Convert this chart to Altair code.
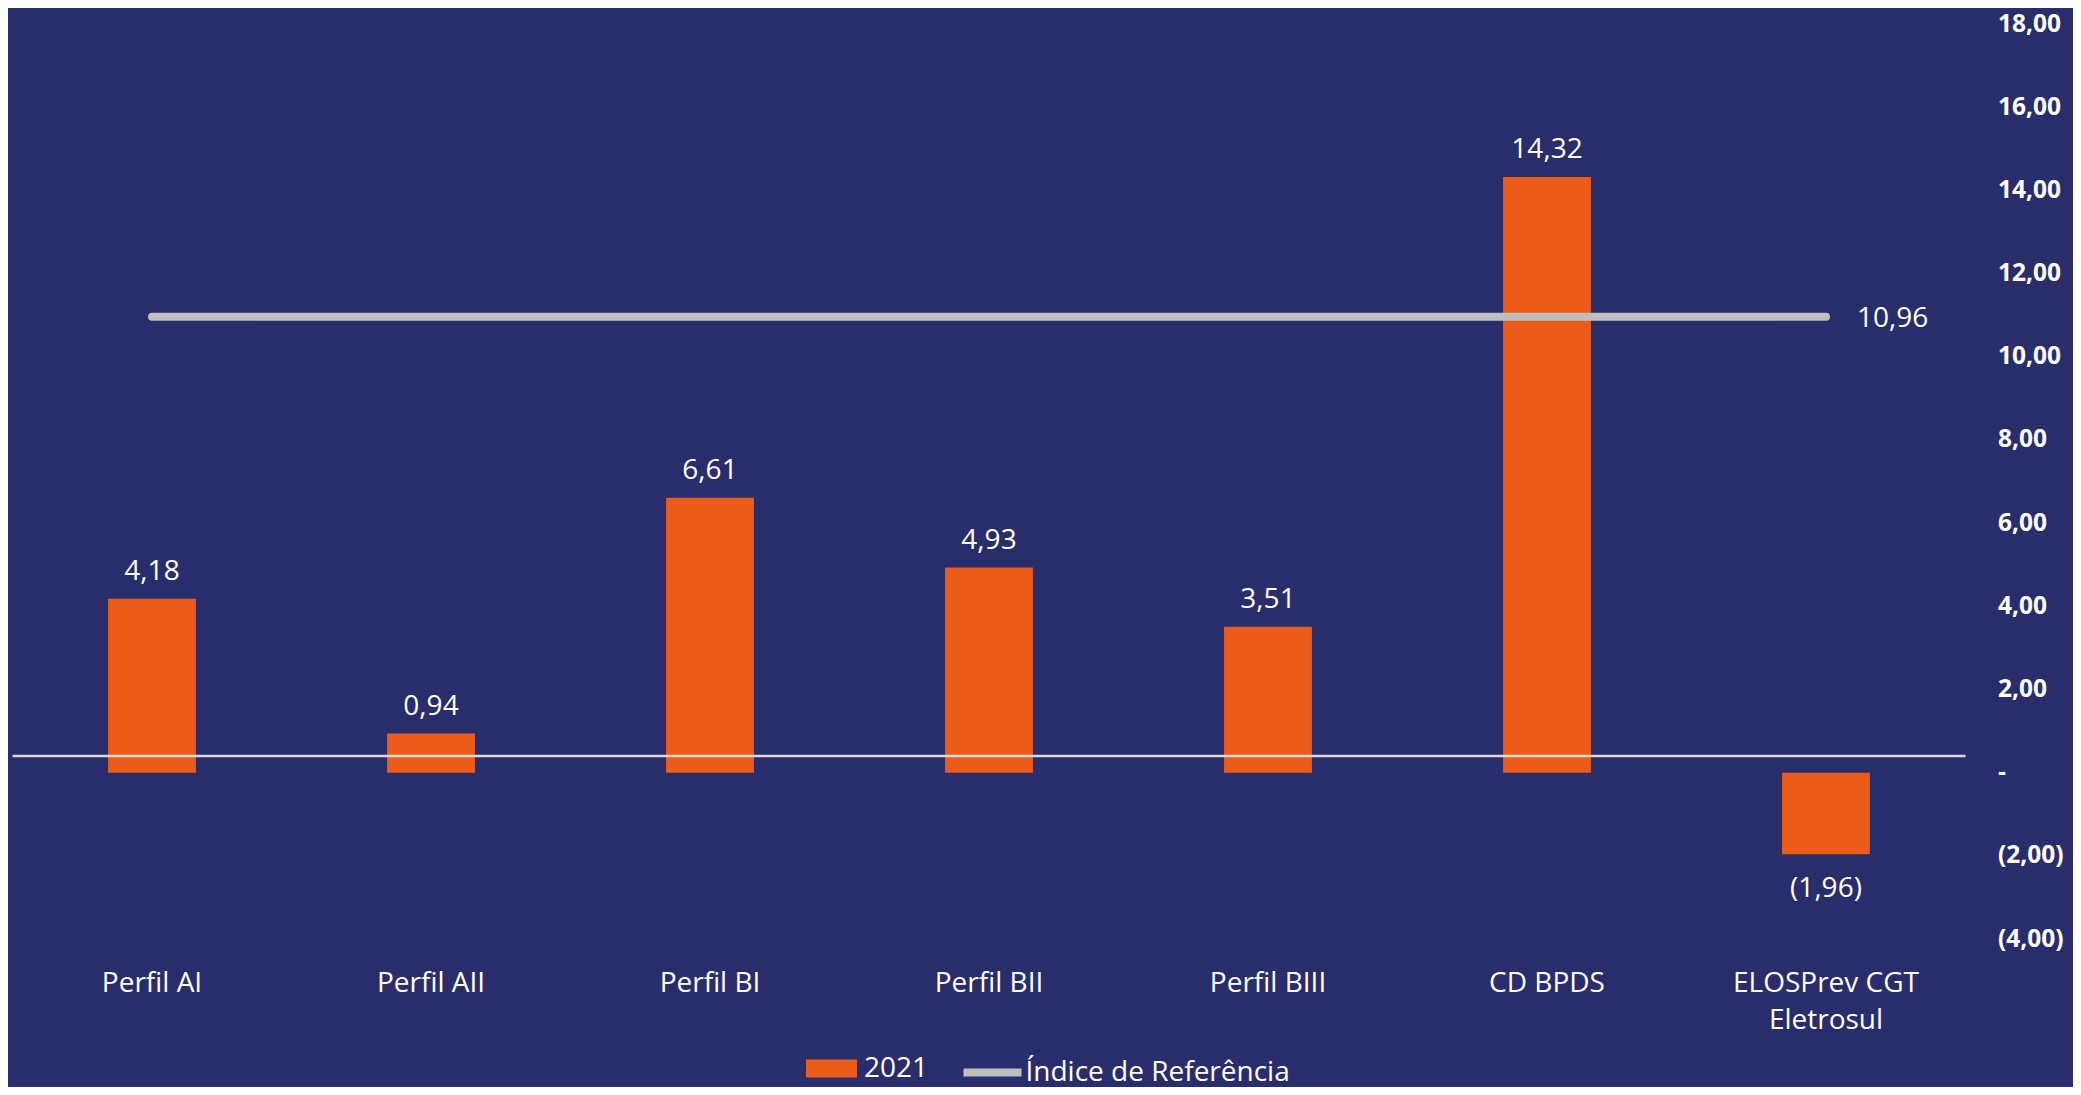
import altair as alt
import pandas as pd

# ---- data ----
categories = ["Perfil AI", "Perfil AII", "Perfil BI", "Perfil BII",
              "Perfil BIII", "CD BPDS", "ELOSPrev CGT|Eletrosul"]
returns_2021 = [4.18, 0.94, 6.61, 4.93, 3.51, 14.32, -1.96]
reference_index = [10.96, 10.96, 10.96, 10.96, 10.96, 10.96, 10.96]
category_line_level = [0.4]
y_ticks = [-4, -2, 0, 2, 4, 6, 8, 10, 12, 14, 16, 18]
bar_series_name = "2021"
line_series_name = "Índice de Referência"

BG = "#2A2D6B"
ORANGE = "#EB5B1A"
GREY = "#BFBFBF"
FONT = "Open Sans"

bars_df = pd.DataFrame({"category": categories, "value": returns_2021,
                        "bar_series": [bar_series_name] * len(categories)})
ref_df = pd.DataFrame({"category": categories, "ref": reference_index,
                       "line_series": [line_series_name] * len(categories)})
ref_label_df = ref_df.iloc[[-1]]
level_df = pd.DataFrame({"level": category_line_level})

fmt = "replace(format(abs(datum.{f}), '.2f'), '.', ',')"
label_expr = ("datum.{f} < 0 ? '(' + " + fmt + " + ')' : " + fmt)

x_enc = alt.X(
    "category:N", sort=categories,
    scale=alt.Scale(paddingInner=0.685, paddingOuter=0.3425),
    axis=alt.Axis(title=None, labelExpr="split(datum.value, '|')", labelAngle=0,
                  domain=False, ticks=False, labelPadding=30, labelFont=FONT,
                  labelFontSize=28, labelColor="white", labelLineHeight=37,
                  labelLimit=0),
)
y_scale = alt.Scale(domain=[-4, 18], nice=False, zero=False)
y_axis = alt.Axis(
    orient="right", values=y_ticks, title=None, grid=False, domain=False,
    ticks=False, tickSize=0, labelPadding=32, labelFont=FONT,
    labelFontWeight="bold", labelFontSize=24.5, labelColor="white", labelLimit=0,
    labelExpr="datum.value == 0 ? '-' : (" + label_expr.format(f="value") + ")",
)

bars = alt.Chart(bars_df).mark_bar().encode(
    x=x_enc,
    y=alt.Y("value:Q", scale=y_scale, axis=y_axis),
    fill=alt.Fill("bar_series:N",
                  scale=alt.Scale(domain=[bar_series_name], range=[ORANGE]),
                  legend=alt.Legend(orient="none", legendX=793.5, legendY=1019,
                                    title=None, padding=0,
                                    symbolType="M-1,-0.353H1V0.353H-1Z",
                                    symbolSize=2601, symbolStrokeWidth=0,
                                    labelFont=FONT, labelFontSize=28, labelLimit=0,
                                    labelColor="white", labelOffset=7)),
)

level_rule = alt.Chart(level_df).mark_rule(color="#D9D9D9", strokeWidth=2.5).encode(
    y=alt.Y("level:Q", scale=y_scale)
)

ref_line = alt.Chart(ref_df).mark_line(strokeWidth=8, strokeCap="round").encode(
    x=alt.X("category:N", sort=categories),
    y=alt.Y("ref:Q", scale=y_scale),
    stroke=alt.Stroke("line_series:N",
                      scale=alt.Scale(domain=[line_series_name], range=[GREY]),
                      legend=alt.Legend(orient="none", legendX=947, legendY=1015.5,
                                        title=None, padding=0, symbolType="stroke",
                                        symbolSize=3364, symbolStrokeWidth=8,
                                        labelFont=FONT, labelFontSize=28, labelLimit=0,
                                        labelColor="white", labelOffset=0)),
)

ref_text = alt.Chart(ref_label_df).mark_text(
    align="left", baseline="alphabetic", dx=31, dy=10, font=FONT,
    fontSize=28, color="white"
).transform_calculate(
    lbl=label_expr.format(f="ref")
).encode(
    x=alt.X("category:N", sort=categories),
    y=alt.Y("ref:Q", scale=y_scale),
    text="lbl:N",
)

pos_text = alt.Chart(bars_df).transform_filter("datum.value >= 0").transform_calculate(
    lbl=label_expr.format(f="value")
).mark_text(baseline="alphabetic", dy=-19, font=FONT, fontSize=28, color="white").encode(
    x=alt.X("category:N", sort=categories),
    y=alt.Y("value:Q", scale=y_scale),
    text="lbl:N",
)

neg_text = alt.Chart(bars_df).transform_filter("datum.value < 0").transform_calculate(
    lbl=label_expr.format(f="value")
).mark_text(baseline="alphabetic", dy=43, font=FONT, fontSize=28, color="white").encode(
    x=alt.X("category:N", sort=categories),
    y=alt.Y("value:Q", scale=y_scale),
    text="lbl:N",
)

chart = alt.layer(bars, level_rule, ref_line, ref_text, pos_text, neg_text).properties(
    width=1953, height=915,
    padding={"left": 4.5, "top": 16, "right": 107.5, "bottom": 148},
    autosize="none",
    background=BG,
).configure_view(strokeWidth=0)

chart.save("out.html", embed_options={"renderer": "svg", "actions": False})
